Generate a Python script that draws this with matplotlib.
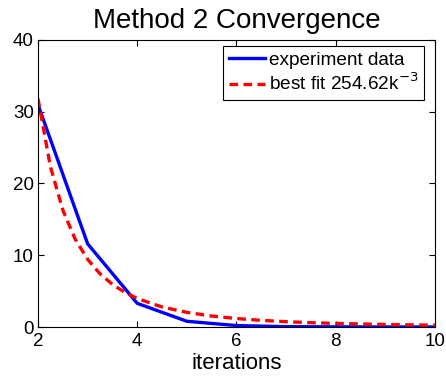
import matplotlib
matplotlib.use("Agg")
import matplotlib.pyplot as plt

plt.rcParams['font.family'] = ['Liberation Sans', 'DejaVu Sans']

# experiment data
k_exp = [2, 3, 4, 5, 6, 7, 8, 9, 10]
err_exp = [31.0, 11.6, 3.3, 0.8, 0.2, 0.05, 0.02, 0.01, 0.0]

# best fit curve values
k_fit = [2, 2.25, 2.5, 2.75, 3, 3.25, 3.5, 3.75, 4, 4.5, 5, 5.5, 6, 6.5, 7, 7.5, 8, 9, 10]
err_fit = [31.83, 22.35, 16.30, 12.24, 9.43, 7.42, 5.94, 4.83, 3.98, 2.79, 2.04,
           1.53, 1.18, 0.93, 0.74, 0.60, 0.50, 0.35, 0.25]

xticks = [2, 4, 6, 8, 10]
yticks = [0, 10, 20, 30, 40]

fig = plt.figure(figsize=(4.46, 3.83), dpi=100)
ax = fig.add_axes([0.0852, 0.1462, 0.8898, 0.7494])

ax.plot(k_exp, err_exp, color='#0000ff', lw=2.4, label='experiment data')
ax.plot(k_fit, err_fit, color='#ff0000', lw=2.4, ls=(0, (2.6, 1.6)), label='best fit 254.62k$^{-3}$')

ax.set_xlim(2, 10)
ax.set_ylim(0, 40)
ax.set_xticks(xticks)
ax.set_yticks(yticks)
ax.tick_params(direction='in', top=True, right=True, length=4, width=0.8, labelsize=13.5)
ax.tick_params(axis='x', pad=4.5)
ax.tick_params(axis='y', pad=3)
for s in ax.spines.values():
    s.set_linewidth(0.8)
ax.set_xlabel('iterations', fontsize=16, labelpad=2)
ax.set_title('Method 2 Convergence', fontsize=20, pad=8.5)

leg = ax.legend(loc='upper right', bbox_to_anchor=(0.9723, 0.979), fontsize=13.7,
                fancybox=False, framealpha=1, edgecolor='black', handlelength=1.9,
                handletextpad=0.2, borderpad=0.3, labelspacing=0.2, borderaxespad=0)
leg.get_frame().set_linewidth(0.8)

fig.savefig('out.png', dpi=100)
